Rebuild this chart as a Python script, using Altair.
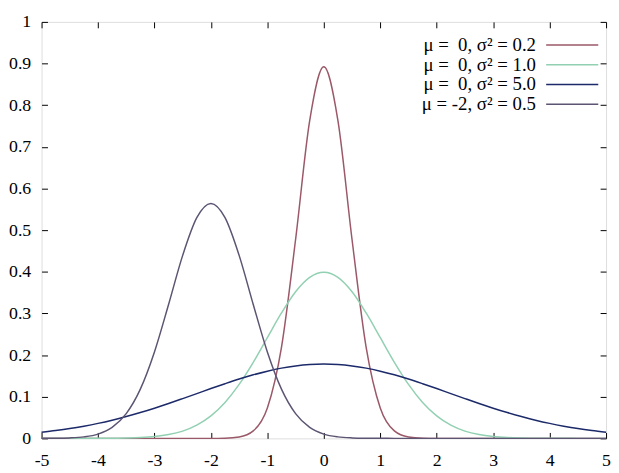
import altair as alt
import pandas as pd

# x positions of the sampled points
X = [-5.0, -4.75, -4.5, -4.25, -4.0, -3.75, -3.5, -3.25, -3.0, -2.75, -2.5,
     -2.25, -2.0, -1.75, -1.5, -1.25, -1.0, -0.75, -0.5, -0.25, 0.0,
     0.25, 0.5, 0.75, 1.0, 1.25, 1.5, 1.75, 2.0, 2.25, 2.5,
     2.75, 3.0, 3.25, 3.5, 3.75, 4.0, 4.25, 4.5, 4.75, 5.0]

# mu = 0, sigma^2 = 0.2
A = [0.0, 0.0, 0.0, 0.0, 0.0, 0.0, 0.0, 0.0, 0.0, 0.0, 0.0,
     0.0, 0.0, 0.0004, 0.0032, 0.0179, 0.0732, 0.2187, 0.4775, 0.7630, 0.8921,
     0.7630, 0.4775, 0.2187, 0.0732, 0.0179, 0.0032, 0.0004, 0.0, 0.0, 0.0,
     0.0, 0.0, 0.0, 0.0, 0.0, 0.0, 0.0, 0.0, 0.0, 0.0]

# mu = 0, sigma^2 = 1.0
B = [0.0, 0.0, 0.0, 0.0001, 0.0001, 0.0004, 0.0009, 0.0020, 0.0044, 0.0091, 0.0175,
     0.0317, 0.0540, 0.0863, 0.1295, 0.1826, 0.2420, 0.3011, 0.3521, 0.3867, 0.3989,
     0.3867, 0.3521, 0.3011, 0.2420, 0.1826, 0.1295, 0.0863, 0.0540, 0.0317, 0.0175,
     0.0091, 0.0044, 0.0020, 0.0009, 0.0004, 0.0001, 0.0001, 0.0, 0.0, 0.0]

# mu = 0, sigma^2 = 5.0
C = [0.0146, 0.0187, 0.0235, 0.0293, 0.0360, 0.0437, 0.0524, 0.0620, 0.0725, 0.0837, 0.0955,
     0.1075, 0.1196, 0.1313, 0.1425, 0.1526, 0.1614, 0.1687, 0.1740, 0.1773, 0.1784,
     0.1773, 0.1740, 0.1687, 0.1614, 0.1526, 0.1425, 0.1313, 0.1196, 0.1075, 0.0955,
     0.0837, 0.0725, 0.0620, 0.0524, 0.0437, 0.0360, 0.0293, 0.0235, 0.0187, 0.0146]

# mu = -2, sigma^2 = 0.5
D = [0.0001, 0.0003, 0.0011, 0.0036, 0.0103, 0.0264, 0.0595, 0.1183, 0.2076, 0.3215, 0.4394,
     0.5300, 0.5642, 0.5300, 0.4394, 0.3215, 0.2076, 0.1183, 0.0595, 0.0264, 0.0103,
     0.0036, 0.0011, 0.0003, 0.0001, 0.0, 0.0, 0.0, 0.0, 0.0, 0.0,
     0.0, 0.0, 0.0, 0.0, 0.0, 0.0, 0.0, 0.0, 0.0, 0.0]

NB = "\u00a0"
LABELS = [
    f"μ{NB}={NB}{NB}0,{NB}σ²{NB}={NB}0.2",
    f"μ{NB}={NB}{NB}0,{NB}σ²{NB}={NB}1.0",
    f"μ{NB}={NB}{NB}0,{NB}σ²{NB}={NB}5.0",
    f"μ{NB}={NB}-2,{NB}σ²{NB}={NB}0.5",
]
COLORS = ["#9a5868", "#92d0b2", "#1c2a6a", "#5c5472"]
X_TICKS = [-5, -4, -3, -2, -1, 0, 1, 2, 3, 4, 5]
Y_TICKS = [0, 0.1, 0.2, 0.3, 0.4, 0.5, 0.6, 0.7, 0.8, 0.9, 1]

rows = []
for lab, ys in zip(LABELS, [A, B, C, D]):
    for xv, yv in zip(X, ys):
        rows.append({"x": xv, "y": yv, "series": lab})
df = pd.DataFrame(rows)

W, H = 572, 422
FONT = "Liberation Serif"

xscale = alt.Scale(domain=[-5, 5], nice=False, zero=False)
yscale = alt.Scale(domain=[0, 1], nice=False)

lines = alt.Chart(df).mark_line(strokeWidth=1.5, interpolate="monotone").encode(
    x=alt.X("x:Q", scale=xscale, title=None,
            axis=alt.Axis(values=X_TICKS, labelExpr="'' + datum.value", ticks=False,
                          domain=False, grid=False, labelPadding=13, labelFlush=False,
                          labelFont=FONT, labelFontSize=18, labelColor="black")),
    y=alt.Y("y:Q", scale=yscale, title=None,
            axis=alt.Axis(values=Y_TICKS, labelExpr="format(datum.value, '~g')", ticks=False,
                          domain=False, grid=False, labelPadding=11,
                          labelFont=FONT, labelFontSize=18, labelColor="black")),
    color=alt.Color("series:N", scale=alt.Scale(domain=LABELS, range=COLORS),
                    legend=alt.Legend(orient="none", legendX=482, legendY=14, title=None,
                                      symbolType="M3.3,0H12.1", symbolSize=144,
                                      symbolStrokeWidth=1.5, labelFont=FONT,
                                      labelFontSize=19, labelColor="black",
                                      labelAlign="right", labelOffset=0,
                                      labelLimit=400, rowPadding=0, padding=0)),
)

ticks_in_a = alt.Chart(df).mark_point(opacity=0, size=0).encode(
    x=alt.X("x:Q", scale=xscale, title=None,
            axis=alt.Axis(orient="top", offset=-H, values=X_TICKS, labels=False,
                          domain=False, grid=False, tickSize=6, tickColor="black")),
    y=alt.Y("y:Q", scale=yscale, title=None,
            axis=alt.Axis(orient="right", offset=-W, values=Y_TICKS, labels=False,
                          domain=False, grid=False, tickSize=6, tickColor="black")),
)

ticks_in_b = alt.Chart(df).mark_point(opacity=0, size=0).encode(
    x=alt.X("x:Q", scale=xscale, title=None,
            axis=alt.Axis(orient="bottom", offset=-H, values=X_TICKS, labels=False,
                          domain=False, grid=False, tickSize=6, tickColor="black")),
    y=alt.Y("y:Q", scale=yscale, title=None,
            axis=alt.Axis(orient="left", offset=-W, values=Y_TICKS, labels=False,
                          domain=False, grid=False, tickSize=6, tickColor="black")),
)

chart = alt.layer(lines, ticks_in_a, ticks_in_b).resolve_axis(
    x="independent", y="independent"
).properties(
    width=W, height=H,
    autosize=alt.AutoSizeParams(type="none"),
    padding={"left": 34, "top": 11, "right": 5, "bottom": 32},
).configure_view(stroke="black", strokeWidth=1.5).configure(background="white")

chart.save("out.html", embed_options={"renderer": "svg", "actions": False})
